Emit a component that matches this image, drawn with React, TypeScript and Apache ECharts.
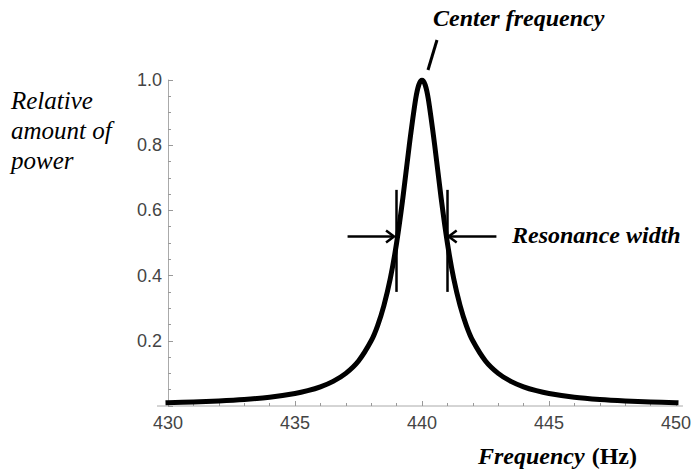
import React, { useEffect, useRef } from "react";
import * as echarts from "echarts";

// Frequency (Hz) and relative power
const freqs = [
  430, 431, 432, 433, 434, 435, 435.5, 436, 436.5, 437, 437.5, 438, 438.25, 438.5, 438.75,
  439, 439.25, 439.5, 439.75, 439.875, 440, 440.125, 440.25, 440.5, 440.75, 441, 441.25, 441.5,
  441.75, 442, 442.5, 443, 443.5, 444, 444.5, 445, 446, 447, 448, 449, 450,
];
const power = [
  0.0099, 0.0122, 0.0154, 0.02, 0.027, 0.0385, 0.0471, 0.0588, 0.0755, 0.1, 0.138, 0.2, 0.246,
  0.308, 0.39, 0.5, 0.64, 0.8, 0.941, 0.985, 1.0, 0.985, 0.941, 0.8, 0.64, 0.5, 0.39, 0.308,
  0.246, 0.2, 0.138, 0.1, 0.0755, 0.0588, 0.0471, 0.0385, 0.027, 0.02, 0.0154, 0.0122, 0.0099,
];
const xTicks = [430, 435, 440, 445, 450];
const yTicks = [0.2, 0.4, 0.6, 0.8, 1.0];

// Resonance width markers (Hz) and their vertical extent (relative power)
const widthMarkers = [439, 441];
const markerTop = 0.663;
const markerBottom = 0.35;
// Arrows pointing at the half-power crossing
const arrowLevel = 0.52;
const leftArrow = [437.07, 438.9];
const rightArrow = [442.93, 441.05];

const SERIF = "Liberation Serif";
const SANS = "Liberation Sans";

export default function App() {
  const ref = useRef<HTMLDivElement>(null);

  useEffect(() => {
    if (!ref.current) return;
    const chart = echarts.init(ref.current, undefined, { renderer: "svg" });
    const option: any = {
      animation: false,
      backgroundColor: "#ffffff",
      grid: { left: 168, right: 14, top: 80, bottom: 68, containLabel: false },
      xAxis: {
        type: "value",
        min: xTicks[0],
        max: xTicks[xTicks.length - 1],
        interval: 5,
        axisLine: { show: false },
        axisTick: { show: true, inside: true, length: 5, lineStyle: { color: "#999" } },
        minorTick: { show: true, splitNumber: 5, length: 3, lineStyle: { color: "#999" } },
        splitLine: { show: false },
        minorSplitLine: { show: false },
        axisLabel: {
          color: "#444",
          fontFamily: SANS,
          fontSize: 18,
          margin: 8,
          formatter: (v: number) => (xTicks.includes(v) ? String(v) : ""),
        },
      },
      yAxis: {
        type: "value",
        min: 0,
        max: 1,
        interval: 0.2,
        axisLine: { show: true, lineStyle: { color: "#aaa", width: 1 } },
        axisTick: { show: true, inside: true, length: 5, lineStyle: { color: "#999" } },
        minorTick: { show: true, splitNumber: 4, length: 3, lineStyle: { color: "#999" } },
        splitLine: { show: false },
        axisLabel: {
          color: "#444",
          fontFamily: SANS,
          fontSize: 18,
          margin: 6,
          formatter: (v: number) => {
            const t = yTicks.find((y) => Math.abs(y - v) < 1e-6);
            return t === undefined ? "" : t.toFixed(1);
          },
        },
      },
      series: [
        {
          type: "line",
          data: freqs.map((f, i) => [f, power[i]]),
          smooth: 0.3,
          showSymbol: false,
          silent: true,
          lineStyle: { color: "#000", width: 5, cap: "square", join: "round" },
          markLine: {
            silent: true,
            symbol: ["none", "none"],
            label: { show: false },
            lineStyle: { color: "#000", width: 2.5, type: "solid" },
            data: widthMarkers.map((f) => [
              { coord: [f, markerTop] },
              { coord: [f, markerBottom] },
            ]),
          },
        },
      ],
    };
    chart.setOption(option);

    const p = (f: number, v: number) => chart.convertToPixel({ gridIndex: 0 }, [f, v]) as number[];
    const o = p(xTicks[0], 0);
    const e = p(xTicks[xTicks.length - 1], 0);
    const la0 = p(leftArrow[0], arrowLevel);
    const la1 = p(leftArrow[1], arrowLevel);
    const ra0 = p(rightArrow[0], arrowLevel);
    const ra1 = p(rightArrow[1], arrowLevel);
    const peak = p(440, 1);
    const ah = 8;
    const aw = 6;
    const arrowStyle = { stroke: "#000", lineWidth: 2.5, fill: "none" };

    chart.setOption({
      graphic: [
        {
          type: "line",
          shape: { x1: o[0] - 11, y1: o[1], x2: e[0] + 7, y2: e[1] },
          style: { stroke: "#aaa", lineWidth: 1 },
          silent: true,
        },
        {
          type: "line",
          shape: { x1: la0[0], y1: la0[1], x2: la1[0], y2: la1[1] },
          style: arrowStyle,
        },
        {
          type: "polyline",
          shape: { points: [[la1[0] - ah, la1[1] - aw], [la1[0], la1[1]], [la1[0] - ah, la1[1] + aw]] },
          style: arrowStyle,
        },
        {
          type: "line",
          shape: { x1: ra0[0], y1: ra0[1], x2: ra1[0], y2: ra1[1] },
          style: arrowStyle,
        },
        {
          type: "polyline",
          shape: { points: [[ra1[0] + ah, ra1[1] - aw], [ra1[0], ra1[1]], [ra1[0] + ah, ra1[1] + aw]] },
          style: arrowStyle,
        },
        {
          type: "line",
          shape: { x1: peak[0] + 15, y1: 40, x2: peak[0] + 6, y2: 70 },
          style: { stroke: "#000", lineWidth: 3 },
        },
        {
          type: "text",
          x: 433,
          y: 18,
          style: {
            text: "Center frequency",
            fontFamily: SERIF,
            fontStyle: "italic",
            fontWeight: "bold",
            fontSize: 24,
            fill: "#000",
            verticalAlign: "middle",
          },
        },
        {
          type: "text",
          x: 512,
          y: 235,
          style: {
            text: "Resonance width",
            fontFamily: SERIF,
            fontStyle: "italic",
            fontWeight: "bold",
            fontSize: 24,
            fill: "#000",
            verticalAlign: "middle",
          },
        },
        {
          type: "text",
          x: 11,
          y: 85,
          style: {
            text: "Relative\namount of\npower",
            fontFamily: SERIF,
            fontStyle: "italic",
            fontSize: 25,
            lineHeight: 30,
            fill: "#000",
            verticalAlign: "top",
          },
        },
        {
          type: "text",
          x: 478,
          y: 456,
          style: {
            text: "{a|Frequency}{s| }{b|(Hz)}",
            fill: "#000",
            fontFamily: SERIF,
            fontSize: 24,
            verticalAlign: "middle",
            rich: {
              a: { fontFamily: SERIF, fontStyle: "italic", fontWeight: "bold", fontSize: 24, fill: "#000" },
              s: { fontFamily: SERIF, fontSize: 24, width: 7 },
              b: { fontFamily: SERIF, fontWeight: "bold", fontSize: 24, fill: "#000" },
            },
          },
        },
      ],
    });

    return () => chart.dispose();
  }, []);

  return (
    <div
      ref={ref}
      style={{ position: "fixed", left: 0, top: 0, width: 694, height: 474, background: "#fff" }}
    />
  );
}
